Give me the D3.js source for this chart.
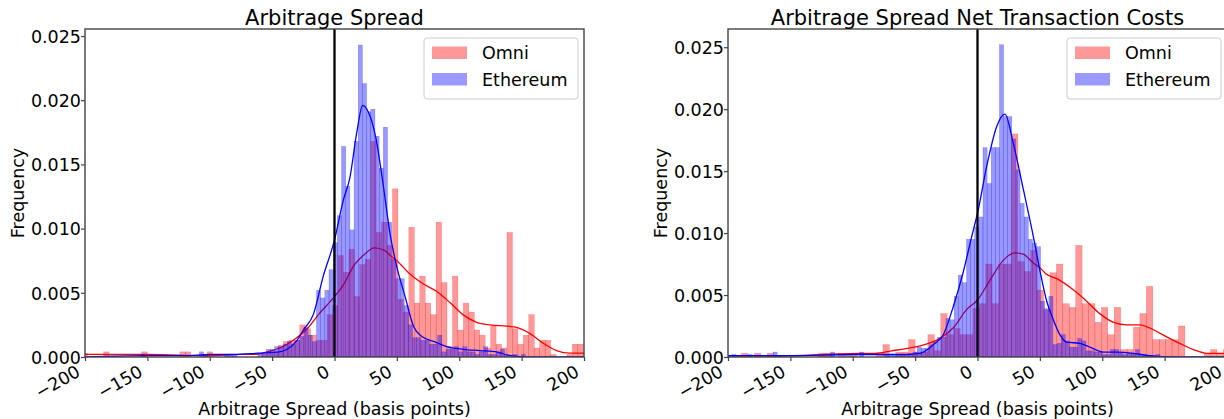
<!DOCTYPE html>
<html>
<head>
<meta charset="utf-8">
<script src="https://cdn.jsdelivr.net/npm/d3@7"></script>
<style>
  body { margin: 0; background: #fff; }
  text { font-family: "DejaVu Sans", sans-serif; fill: #000; }
</style>
</head>
<body>
<svg id="chart" width="1224" height="419"></svg>
<script>
// ---- data ----
var xTicks = [-200, -150, -100, -50, 0, 50, 100, 150, 200];
var yTicks = [0, 0.005, 0.010, 0.015, 0.020, 0.025];
var seriesNames = ['Omni', 'Ethereum'];
var panelTitles = ['Arbitrage Spread', 'Arbitrage Spread Net Transaction Costs'];
var xLabel = 'Arbitrage Spread (basis points)';
var yLabel = 'Frequency';

// left panel: gross spread
var spreadOmniStart = -202.6, spreadOmniWidth = 4.37;
var spreadOmniFreq = [
  0.0003, 0, 0, 0, 0.0004, 0, 0, 0, 0, 0,
  0, 0.0004, 0, 0, 0, 0, 0, 0, 0.0004, 0.0004,
  0, 0, 0, 0.0004, 0, 0, 0, 0, 0, 0,
  0, 0, 0, 0.0002, 0.0004, 0.0004, 0.0009, 0.0012, 0.0013, 0.0013,
  0.0025, 0.0022, 0.0017, 0.0013, 0.0013, 0.0033, 0.0040, 0.0079, 0.0066, 0.0084,
  0.0047, 0.0072, 0.0076, 0.0168, 0.0097, 0.0105, 0.0087, 0.0131, 0.0045, 0.0035,
  0.0101, 0.0042, 0.0063, 0.0042, 0.0033, 0.0105, 0.0058, 0.0008, 0.0063, 0.0021,
  0.0042, 0.0035, 0.0021, 0.0017, 0.0007, 0.0024, 0.0010, 0.0007, 0.0097, 0.0022,
  0.0010, 0.0017, 0.0033, 0.0007, 0.0013, 0.0013, 0.0002, 0, 0, 0.0002,
  0.0010, 0.0010, 0.0002
];
var spreadEthStart = -198.7, spreadEthWidth = 3.35;
var spreadEthFreq = [
  0, 0, 0, 0, 0, 0, 0, 0, 0, 0,
  0, 0, 0, 0.0002, 0, 0, 0, 0, 0, 0,
  0, 0, 0, 0, 0, 0, 0, 0.0004, 0.0002, 0,
  0, 0, 0, 0.0002, 0.0002, 0.0002, 0, 0, 0, 0,
  0, 0.0003, 0.0003, 0.0006, 0.0006, 0.0008, 0.0008, 0.0010, 0.0012, 0.0010,
  0.0013, 0.0016, 0.0023, 0.0017, 0.0012, 0.0052, 0.0046, 0.0052, 0.0068, 0.0089,
  0.0110, 0.0164, 0.0133, 0.0099, 0.0168, 0.0243, 0.0213, 0.0191, 0.0193, 0.0172,
  0.0147, 0.0179, 0.0105, 0.0076, 0.0061, 0.0061, 0.0040, 0.0025, 0.0015, 0.0015,
  0.0013, 0.0013, 0.0010, 0.0010, 0.0017, 0.0004, 0.0006, 0.0006, 0.0008, 0.0004,
  0.0008, 0.0004, 0.0004, 0.0002, 0.0004, 0.0008, 0.0002, 0.0002, 0.0004, 0.0006,
  0.0002, 0, 0.0002, 0, 0.0002
];
var spreadOmniKde = [
  [-200, 0.0002], [-150, 0.0002], [-100, 0.0001], [-75, 0.0002], [-64, 0.0002],
  [-54, 0.0004], [-44, 0.0007], [-33, 0.0013], [-22, 0.0022], [-12, 0.0034],
  [0, 0.0047], [7, 0.0056], [16, 0.0072], [23, 0.0079], [32, 0.0085],
  [40, 0.0083], [46, 0.0078], [50, 0.0075], [60, 0.0065], [71, 0.0057],
  [82, 0.0051], [93, 0.0042], [103, 0.0033], [114, 0.0027], [125, 0.0025],
  [138, 0.0024], [146, 0.0023], [157, 0.0018], [167, 0.0011], [178, 0.0005],
  [189, 0.0003], [200, 0.0003]
];
var spreadEthKde = [
  [-200, 0], [-150, 0.0001], [-120, 0.0001], [-100, 0.0002], [-80, 0.0002],
  [-61, 0.0003], [-44, 0.0004], [-38, 0.0006], [-30, 0.0013], [-25, 0.0021],
  [-17, 0.0033], [-9, 0.0063], [0, 0.0091], [7, 0.0122], [12.4, 0.0140],
  [17.7, 0.0174], [22.6, 0.0196], [27, 0.0191], [33.3, 0.0170], [39.2, 0.0133],
  [44.5, 0.0096], [50, 0.0070], [56.6, 0.0047], [63.3, 0.0024], [70, 0.0016],
  [80, 0.0012], [90, 0.0008], [103, 0.0006], [117, 0.0005], [130, 0.0004],
  [141, 0.0001], [157, 0], [200, 0]
];

// right panel: net of transaction costs
var netOmniStart = -199.4, netOmniWidth = 5.15;
var netOmniFreq = [
  0, 0, 0.0003, 0, 0.0003, 0, 0.0003, 0, 0, 0,
  0, 0, 0, 0, 0.0003, 0.0003, 0, 0.0003, 0.0003, 0.0003,
  0, 0, 0, 0.0003, 0.0010, 0, 0.0004, 0.0004, 0.0014, 0.0004,
  0.0004, 0.0018, 0.0005, 0.0035, 0.0018, 0.0023, 0.0018, 0.0018, 0.0039, 0.0043,
  0.0075, 0.0043, 0.0075, 0.0075, 0.0180, 0.0077, 0.0069, 0.0086, 0.0054, 0.0038,
  0.0068, 0.0075, 0.0043, 0.0040, 0.0090, 0.0043, 0.0043, 0.0028, 0.0040, 0.0018,
  0.0040, 0.0006, 0.0006, 0.0024, 0.0035, 0.0057, 0.0014, 0.0014, 0.0014, 0.0014,
  0.0025, 0, 0, 0, 0.0003, 0.0006, 0.0003, 0.0006
];
var netEthStart = -200.2, netEthWidth = 3.3;
var netEthFreq = [
  0, 0.0002, 0, 0, 0, 0.0002, 0, 0, 0, 0,
  0, 0.0004, 0.0001, 0, 0, 0, 0, 0, 0, 0,
  0, 0, 0, 0, 0, 0.0004, 0, 0, 0, 0,
  0, 0, 0.0004, 0, 0, 0, 0, 0, 0.0002, 0.0002,
  0.0002, 0.0002, 0.0002, 0.0002, 0.0003, 0.0004, 0.0008, 0.0007, 0.0007, 0.0010,
  0.0012, 0.0016, 0.0016, 0.0031, 0.0030, 0.0049, 0.0066, 0.0060, 0.0095, 0.0095,
  0.0105, 0.0113, 0.0169, 0.0140, 0.0169, 0.0169, 0.0252, 0.0194, 0.0194, 0.0176,
  0.0151, 0.0124, 0.0113, 0.0095, 0.0092, 0.0089, 0.0045, 0.0039, 0.0049, 0.0010,
  0.0011, 0.0018, 0.0013, 0.0008, 0.0008, 0.0015, 0.0013, 0.0005, 0.0005, 0.0004,
  0.0004, 0.0002, 0.0002, 0.0006, 0.0006, 0.0003, 0.0002, 0.0003, 0.0003, 0.0006,
  0.0001, 0.0001, 0.0001, 0.0001, 0.0002
];
var netOmniKde = [
  [-200, 0.0001], [-160, 0.0001], [-122, 0.0002], [-95, 0.0003], [-82, 0.0003],
  [-69, 0.0005], [-56, 0.0007], [-46, 0.0009], [-30, 0.0015], [-19, 0.0024],
  [-9, 0.0038], [0, 0.0046], [10, 0.0062], [20.6, 0.0078], [30, 0.0084],
  [36.6, 0.0083], [44.6, 0.0076], [50, 0.0072], [55, 0.0067], [64, 0.0063],
  [77, 0.0054], [87.5, 0.0045], [98, 0.0035], [109, 0.0028], [120, 0.0026],
  [130, 0.0026], [141, 0.0022], [152, 0.0016], [162, 0.0011], [173, 0.0006],
  [184, 0.0003], [194, 0.0003], [200, 0.0003]
];
var netEthKde = [
  [-200, 0.0001], [-150, 0.0001], [-100, 0.0002], [-75, 0.0002], [-62, 0.0002],
  [-46, 0.0003], [-35.4, 0.0010], [-27.4, 0.0018], [-19.3, 0.0041], [-11.3, 0.0069],
  [-4.7, 0.0097], [0, 0.0116], [7.4, 0.0154], [15.4, 0.0186], [22, 0.0196],
  [28.8, 0.0172], [36.8, 0.0135], [44.8, 0.0097], [50, 0.0070], [55.5, 0.0045],
  [60.8, 0.0030], [66, 0.0018], [71.5, 0.0012], [82, 0.0011], [90, 0.0008],
  [101, 0.0004], [112, 0.0004], [125, 0.0003], [138, 0.0001], [157, 0], [200, 0]
];

// ---- layout ----
var svg = d3.select('#chart');
var plotTop = 29, plotBottom = 357;
var tickFont = 17.5;

var panels = [
  {left: 85, right: 584, yMax: 0.02555, title: panelTitles[0],
   hists: [
     {start: spreadOmniStart, width: spreadOmniWidth, freq: spreadOmniFreq, kde: spreadOmniKde, color: 'red'},
     {start: spreadEthStart, width: spreadEthWidth, freq: spreadEthFreq, kde: spreadEthKde, color: 'blue'}
   ]},
  {left: 728, right: 1227, yMax: 0.02647, title: panelTitles[1],
   hists: [
     {start: netOmniStart, width: netOmniWidth, freq: netOmniFreq, kde: netOmniKde, color: 'red'},
     {start: netEthStart, width: netEthWidth, freq: netEthFreq, kde: netEthKde, color: 'blue'}
   ]}
];

panels.forEach(function (p, pi) {
  var x = d3.scaleLinear().domain([-200, 200]).range([p.left, p.right]);
  var y = d3.scaleLinear().domain([0, p.yMax]).range([plotBottom, plotTop]);

  svg.append('clipPath').attr('id', 'clip' + pi)
    .append('rect')
    .attr('x', p.left).attr('y', plotTop)
    .attr('width', p.right - p.left).attr('height', plotBottom - plotTop);

  var plot = svg.append('g').attr('clip-path', 'url(#clip' + pi + ')');

  p.hists.forEach(function (h) {
    var bins = h.freq.map(function (f, i) {
      return {x0: h.start + i * h.width, x1: h.start + (i + 1) * h.width, f: f};
    }).filter(function (b) { return b.f > 0; });

    plot.append('g').selectAll('rect')
      .data(bins)
      .enter()
      .append('rect')
      .attr('x', function (b) { return x(b.x0); })
      .attr('width', function (b) { return x(b.x1) - x(b.x0); })
      .attr('y', function (b) { return y(b.f); })
      .attr('height', function (b) { return y(0) - y(b.f); })
      .attr('fill', h.color)
      .attr('fill-opacity', 0.4)
      .attr('stroke', h.color)
      .attr('stroke-opacity', 0.4)
      .attr('stroke-width', 0.4);

    var line = d3.line()
      .x(function (d) { return x(d[0]); })
      .y(function (d) { return y(d[1]); })
      .curve(d3.curveMonotoneX);

    plot.append('path')
      .datum(h.kde)
      .attr('d', line)
      .attr('fill', 'none')
      .attr('stroke', h.color)
      .attr('stroke-width', 1.3);
  });

  // vertical line at zero
  plot.append('line')
    .attr('x1', x(0)).attr('x2', x(0))
    .attr('y1', plotTop).attr('y2', plotBottom)
    .attr('stroke', '#000')
    .attr('stroke-width', 2.3);

  // frame
  svg.append('rect')
    .attr('x', p.left).attr('y', plotTop)
    .attr('width', p.right - p.left).attr('height', plotBottom - plotTop)
    .attr('fill', 'none')
    .attr('stroke', '#444')
    .attr('stroke-width', 1.4);

  // x axis
  var xAxis = svg.append('g')
    .attr('transform', 'translate(0,' + plotBottom + ')')
    .call(d3.axisBottom(x).tickValues(xTicks).tickSizeInner(4).tickSizeOuter(0)
      .tickFormat(function (d) { return d < 0 ? '\u2212' + Math.abs(d) : d; }));
  xAxis.select('.domain').remove();
  xAxis.selectAll('.tick line').attr('stroke', '#444').attr('stroke-width', 1.2);
  xAxis.selectAll('.tick text')
    .attr('font-size', tickFont)
    .attr('font-family', 'DejaVu Sans')
    .attr('text-anchor', 'end')
    .attr('x', 0).attr('y', 0).attr('dy', '0.73em')
    .attr('transform', 'translate(' + (-0.365 * tickFont - 4) + ',7) rotate(-30)');

  // y axis
  var yAxis = svg.append('g')
    .attr('transform', 'translate(' + p.left + ',0)')
    .call(d3.axisLeft(y).tickValues(yTicks).tickSizeInner(4).tickSizeOuter(0)
      .tickFormat(d3.format('.3f')));
  yAxis.select('.domain').remove();
  yAxis.selectAll('.tick line').attr('stroke', '#444').attr('stroke-width', 1.2);
  yAxis.selectAll('.tick text')
    .attr('font-size', tickFont)
    .attr('font-family', 'DejaVu Sans')
    .attr('x', -4)
    .attr('dy', '0.36em');

  // title and labels
  svg.append('text')
    .attr('x', (p.left + p.right) / 2).attr('y', 25)
    .attr('text-anchor', 'middle')
    .attr('font-size', 21)
    .text(p.title);

  svg.append('text')
    .attr('x', (p.left + p.right) / 2).attr('y', 415)
    .attr('text-anchor', 'middle')
    .attr('font-size', tickFont)
    .text(xLabel);

  svg.append('text')
    .attr('transform', 'translate(' + (p.left - 61) + ',' + ((plotTop + plotBottom) / 2) + ') rotate(-90)')
    .attr('text-anchor', 'middle')
    .attr('font-size', tickFont)
    .text(yLabel);

  // legend
  var lg = svg.append('g').attr('transform', 'translate(' + (p.right - 160) + ',38)');
  lg.append('rect')
    .attr('width', 154).attr('height', 61)
    .attr('rx', 3)
    .attr('fill', '#fff').attr('fill-opacity', 0.8)
    .attr('stroke', '#ccc');
  p.hists.forEach(function (h, i) {
    lg.append('rect')
      .attr('x', 8).attr('y', 8.5 + i * 26.5)
      .attr('width', 35).attr('height', 12.5)
      .attr('fill', h.color).attr('fill-opacity', 0.4);
    lg.append('text')
      .attr('x', 58).attr('y', 15 + i * 26.5)
      .attr('dy', '0.36em')
      .attr('font-size', tickFont)
      .text(seriesNames[i]);
  });
});
</script>
</body>
</html>
